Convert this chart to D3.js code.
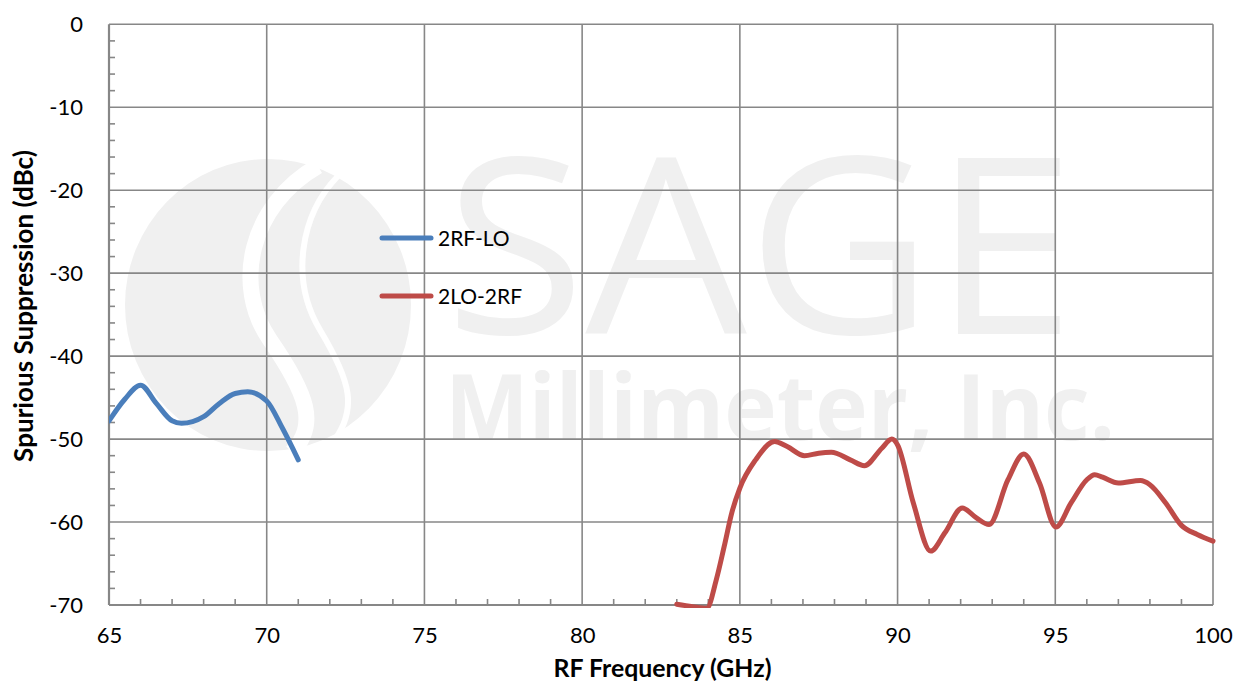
<!DOCTYPE html>
<html><head><meta charset="utf-8">
<script src="https://cdn.jsdelivr.net/npm/d3@7"></script>
<style>
body{margin:0;background:#fff}
svg{display:block}
text{font-family:Lato,"Open Sans",sans-serif;fill:#000}
</style>
</head><body>
<svg id="chart" width="1239" height="681"></svg>
<script>
// ---- data ----
const xTickValues = [65, 70, 75, 80, 85, 90, 95, 100];
const yTickValues = [0, -10, -20, -30, -40, -50, -60, -70];
const seriesNames = ["2RF-LO", "2LO-2RF"];
const seriesColors = ["#4a7ebb", "#be4b48"];

const rfLoFreq = [65.0, 65.5, 66.0, 66.5, 67.0, 67.3, 68.0, 68.5, 69.0, 69.4, 70.0, 70.5, 71.0];
const rfLoVal  = [-47.8, -45.2, -43.5, -45.7, -47.8, -48.1, -47.3, -45.7, -44.5, -44.3, -45.4, -48.7, -52.5];

const loRfFreq = [83.0, 83.5, 83.95, 84.25, 84.5, 84.75, 85.0, 85.5, 86.1, 86.5, 87.05, 87.5, 87.9, 88.5, 88.95, 89.5, 89.82, 90.0, 90.5, 91.05, 91.5, 92.05, 92.5, 92.9, 93.5, 94.0, 94.5, 95.02, 95.5, 96.0, 96.25, 96.5, 97.0, 97.7, 98.0, 98.5, 99.0, 99.5, 100.0];
const loRfVal  = [-69.9, -70.2, -70.4, -67.0, -63.0, -58.8, -55.9, -52.5, -50.3, -50.9, -52.0, -51.7, -51.6, -52.5, -53.2, -51.1, -50.0, -50.7, -57.7, -63.5, -61.3, -58.3, -59.5, -60.3, -54.9, -51.8, -55.3, -60.6, -57.7, -54.9, -54.3, -54.6, -55.3, -55.0, -55.5, -57.7, -60.4, -61.5, -62.3];

// ---- layout ----
const L = 109, R = 1213, T = 24.3, B = 605;
const svg = d3.select("#chart");
const x = d3.scaleLinear().domain([65, 100]).range([L, R]);
const y = d3.scaleLinear().domain([-70, 0]).range([B, T]);
const gridColor = "#878787";
const wm = "#f0f0f0";

// ---- watermark ----
const w = svg.append("g");
w.append("ellipse").attr("cx", 268).attr("cy", 305).attr("rx", 143).attr("ry", 146).attr("fill", wm);
w.append("path").attr("d", "M318 166 C 250 205, 232 285, 270 340 S 318 425, 292 452")
  .attr("fill", "none").attr("stroke", "#fff").attr("stroke-width", 16);
w.append("path").attr("d", "M338 176 C 300 215, 290 280, 320 330 S 360 410, 330 446")
  .attr("fill", "none").attr("stroke", "#fff").attr("stroke-width", 6);
w.append("text").text("SAGE").attr("x", 445).attr("y", 334)
  .attr("textLength", 630).attr("lengthAdjust", "spacingAndGlyphs")
  .style("font-family", "'Open Sans',sans-serif").style("font-size", "245px").style("fill", wm);
w.append("text").text("Millimeter, Inc.").attr("x", 445).attr("y", 440)
  .attr("textLength", 670).attr("lengthAdjust", "spacingAndGlyphs")
  .style("font-family", "'Open Sans',sans-serif").style("font-weight", 700).style("font-size", "92px").style("fill", wm);

// ---- grid ----
const g = svg.append("g");
g.selectAll(".vg").data(xTickValues.slice(1)).join("line")
  .attr("x1", d => x(d)).attr("x2", d => x(d)).attr("y1", T).attr("y2", B)
  .attr("stroke", gridColor).attr("stroke-width", 1.6);
g.selectAll(".hg").data(yTickValues.slice(0, -1)).join("line")
  .attr("x1", L).attr("x2", R).attr("y1", d => y(d)).attr("y2", d => y(d))
  .attr("stroke", gridColor).attr("stroke-width", 1.6);

// minor ticks
const yMinor = d3.range(-70, 0.1, 2).filter(v => v % 10 !== 0);
g.selectAll(".ym").data(yMinor).join("line")
  .attr("x1", L).attr("x2", L + 6).attr("y1", d => y(d)).attr("y2", d => y(d))
  .attr("stroke", gridColor).attr("stroke-width", 1.6);
const xMinor = d3.range(65, 100.1, 1).filter(v => v % 5 !== 0);
g.selectAll(".xm").data(xMinor).join("line")
  .attr("x1", d => x(d)).attr("x2", d => x(d)).attr("y1", B).attr("y2", B - 6)
  .attr("stroke", gridColor).attr("stroke-width", 1.6);

// axes lines
g.append("line").attr("x1", L).attr("x2", L).attr("y1", T).attr("y2", B).attr("stroke", gridColor).attr("stroke-width", 2.2);
g.append("line").attr("x1", L).attr("x2", R).attr("y1", B).attr("y2", B).attr("stroke", gridColor).attr("stroke-width", 2.2);

// tick labels
const yAxis = d3.axisLeft(y).tickValues(yTickValues).tickSize(0).tickPadding(26).tickFormat(d3.format("d"));
const ya = svg.append("g").attr("transform", `translate(${L},0)`).call(yAxis);
ya.select(".domain").remove();
ya.selectAll("text").style("font-size", "22px").style("font-family", "Lato,sans-serif").attr("fill", "#000").text(d => String(d));

const xAxis = d3.axisBottom(x).tickValues(xTickValues).tickSize(0).tickPadding(22).tickFormat(d3.format("d"));
const xa = svg.append("g").attr("transform", `translate(0,${B})`).call(xAxis);
xa.select(".domain").remove();
xa.selectAll("text").style("font-size", "22px").style("font-family", "Lato,sans-serif").attr("fill", "#000");

// ---- series ----
svg.append("clipPath").attr("id", "clip").append("rect")
  .attr("x", L).attr("y", T - 4).attr("width", R - L + 4).attr("height", B - T + 7);
const line = d3.line().x(d => x(d[0])).y(d => y(d[1])).curve(d3.curveMonotoneX);
const series = [
  d3.zip(rfLoFreq, rfLoVal),
  d3.zip(loRfFreq, loRfVal)
];
const sg = svg.append("g").attr("clip-path", "url(#clip)");
sg.selectAll("path").data(series).join("path")
  .attr("d", line).attr("fill", "none")
  .attr("stroke", (d, i) => seriesColors[i]).attr("stroke-width", 5)
  .attr("stroke-linecap", "round").attr("stroke-linejoin", "round");

// ---- legend ----
const lg = svg.append("g");
const legendY = [238, 296];
seriesNames.forEach((n, i) => {
  lg.append("line").attr("x1", 382).attr("x2", 431).attr("y1", legendY[i]).attr("y2", legendY[i])
    .attr("stroke", seriesColors[i]).attr("stroke-width", 5).attr("stroke-linecap", "round");
  lg.append("text").text(n).attr("x", 438).attr("y", legendY[i] + 7.5).style("font-size", "21px");
});

// ---- titles ----
function fit(sel, target) {
  const fs = parseFloat(sel.style("font-size"));
  const len = sel.node().getComputedTextLength();
  sel.style("font-size", (fs * target / len) + "px");
}
const xt = svg.append("text").text("RF Frequency (GHz)").attr("x", 662.5).attr("y", 677)
  .attr("text-anchor", "middle").style("font-weight", 700).style("font-size", "21px");
fit(xt, 218);
const yt = svg.append("text").text("Spurious Suppression (dBc)")
  .attr("transform", "translate(33,306) rotate(-90)")
  .attr("text-anchor", "middle").style("font-weight", 700).style("font-size", "21px");
fit(yt, 312);
</script>
</body></html>
